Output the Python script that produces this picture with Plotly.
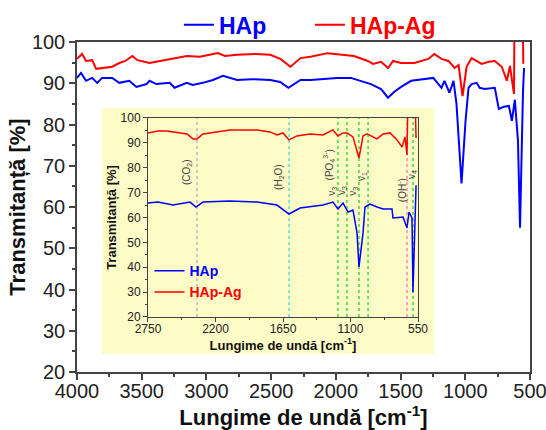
import plotly.graph_objects as go

# ---------------- Main spectrum data (wavenumber cm-1, transmittance %) ----------------
main_wn_hap = [4000, 3969, 3930, 3883, 3844, 3806, 3728, 3673, 3596, 3541, 3463, 3440, 3386,
               3284, 3246, 3152, 3106, 3028, 2950, 2872, 2763, 2650, 2507, 2430, 2367, 2273,
               2196, 2100, 1990, 1884, 1807, 1729, 1651, 1597, 1550, 1496, 1418, 1330, 1247,
               1184, 1161, 1122, 1091, 1068, 1029, 998, 975, 951, 912, 889, 850, 772, 741,
               702, 663, 640, 617, 593, 577, 554, 546]
main_t_hap = [91.3, 92.5, 90.6, 91.3, 90.1, 91.3, 91.3, 90.1, 90.6, 89.1, 89.8, 90.6, 89.8,
              90.1, 88.9, 90.1, 89.6, 90.1, 90.8, 91.8, 90.8, 91.0, 90.8, 90.3, 88.9, 90.8,
              90.8, 91.0, 91.3, 91.3, 90.6, 89.8, 88.6, 86.5, 87.9, 89.1, 90.6, 91.0, 91.3,
              88.9, 90.6, 87.7, 90.6, 85.0, 65.7, 80.9, 88.9, 89.8, 90.1, 88.9, 88.6, 88.9, 83.8,
              84.3, 84.5, 80.9, 86.0, 76.1, 55.0, 88.2, 93.7]

main_wn_ag = [4000, 3961, 3930, 3883, 3852, 3790, 3728, 3673, 3627, 3572, 3533, 3440, 3362,
              3284, 3152, 3051, 2911, 2857, 2763, 2623, 2507, 2429, 2351, 2273, 2196, 2063,
              1962, 1861, 1752, 1713, 1651, 1597, 1558, 1496, 1394, 1285, 1239, 1184, 1130,
              1083, 1052, 1021, 990, 951, 873, 819, 772, 718, 679, 655, 624, 616, 560, 552]
main_t_ag = [95.9, 97.1, 95.4, 95.6, 93.5, 93.7, 94.0, 94.9, 95.4, 96.6, 95.6, 94.9, 95.4,
             95.9, 96.6, 96.4, 97.3, 96.6, 96.9, 97.1, 96.9, 95.9, 94.0, 96.1, 96.4, 97.3,
             96.9, 96.6, 95.4, 94.7, 95.2, 93.7, 95.4, 94.9, 94.9, 95.9, 97.1, 95.9, 95.4,
             93.7, 94.4, 86.9, 94.0, 96.1, 94.7, 95.2, 95.4, 94.0, 90.6, 94.2, 87.4, 120.0,
             120.0, 94.7]

# ---------------- Inset data ----------------
ins_wn_hap = [2750, 2669, 2546, 2408, 2359, 2302, 2082, 1862, 1699, 1601, 1511, 1324, 1243,
              1202, 1161, 1120, 1080, 1047, 1031, 998, 982, 941, 884, 835, 762, 754, 672,
              640, 623, 599, 591, 566]
ins_t_hap = [65.8, 66.2, 65.0, 66.2, 64.2, 66.2, 66.6, 66.2, 65.0, 61.4, 63.8, 65.0, 66.2,
             63.4, 65.8, 62.2, 63.0, 53.8, 40.1, 53.8, 64.2, 65.4, 64.2, 63.4, 63.4, 59.8,
             60.2, 55.8, 62.2, 59.8, 30.0, 73.0]

ins_wn_ag = [2750, 2669, 2595, 2489, 2432, 2383, 2351, 2302, 2204, 2082, 1862, 1756, 1699,
             1650, 1601, 1536, 1430, 1324, 1243, 1202, 1161, 1129, 1080, 1031, 998, 966,
             884, 835, 778, 721, 680, 656, 640, 632, 574, 566]
ins_t_ag = [94.0, 94.8, 94.8, 94.0, 93.6, 91.6, 91.6, 93.6, 94.4, 95.2, 95.2, 94.4, 93.2,
            94.0, 91.2, 92.8, 93.6, 93.2, 95.2, 92.8, 94.0, 94.0, 92.4, 83.9, 92.8, 93.6,
            91.6, 93.6, 94.0, 91.2, 88.3, 92.4, 85.1, 108.0, 108.0, 92.0]

# ---------------- Band markers in inset ----------------
band_wn = [2351, 1601, 1202, 1129, 1031, 957, 640, 591]
band_colors = ["#d4aacb", "#4fe0e0", "#3ddc3d", "#3ddc3d", "#3ddc3d", "#3ddc3d",
               "#ff7fd0", "#3ddc3d"]

label_text = ["(CO<sub>2</sub>)", "(H<sub>2</sub>O)", "(PO<sub>4</sub><sup>3-</sup>)",
              "ν<sub>3</sub>", "ν<sub>3</sub>", "ν<sub>3</sub>", "ν<sub>1</sub>",
              "(OH<sup>-</sup>)", "ν<sub>4</sub>"]
label_wn = [2432, 1683, 1280, 1251, 1169, 1080, 1006, 680, 599]
label_t = [78.3, 76.3, 81.1, 70.7, 70.7, 70.7, 76.3, 71.0, 77.1]

x_ticks_main = [4000, 3500, 3000, 2500, 2000, 1500, 1000, 500]
x_ticks_ins = [2750, 2200, 1650, 1100, 550]

FONT = "Liberation Sans, Arial, sans-serif"
BLUE = "#0000ff"
RED = "#ff0000"
AX = "#444444"

fig = go.Figure()

fig.add_trace(go.Scatter(x=main_wn_hap, y=main_t_hap, mode="lines",
                         line=dict(color=BLUE, width=2),
                         name="<span style='color:#0000ff'><b>HAp</b></span>",
                         xaxis="x", yaxis="y", legend="legend"))
fig.add_trace(go.Scatter(x=main_wn_ag, y=main_t_ag, mode="lines",
                         line=dict(color=RED, width=2),
                         name="<span style='color:#ff0000'><b>HAp-Ag</b></span>",
                         xaxis="x", yaxis="y", legend="legend"))

fig.add_trace(go.Scatter(x=ins_wn_hap, y=ins_t_hap, mode="lines",
                         line=dict(color=BLUE, width=1.5),
                         name="<span style='color:#0000ff'><b>HAp</b></span>",
                         xaxis="x2", yaxis="y2", legend="legend2"))
fig.add_trace(go.Scatter(x=ins_wn_ag, y=ins_t_ag, mode="lines",
                         line=dict(color=RED, width=1.5),
                         name="<span style='color:#ff0000'><b>HAp-Ag</b></span>",
                         xaxis="x2", yaxis="y2", legend="legend2"))

shapes = [dict(type="rect", xref="paper", yref="paper", x0=0.0552, x1=0.788, y0=0.0545, y1=0.80,
               fillcolor="#fdfbc6", line=dict(width=0), layer="below")]
for wn, c in zip(band_wn, band_colors):
    shapes.append(dict(type="line", xref="x2", yref="y2 domain", x0=wn, x1=wn, y0=0, y1=1,
                       line=dict(color=c, width=1.5, dash="dot"), layer="below"))

annotations = []
for t, wn, yv in zip(label_text, label_wn, label_t):
    annotations.append(dict(x=wn, y=yv, xref="x2", yref="y2", text=t, showarrow=False,
                            textangle=-90, font=dict(family=FONT, size=10, color="#444444")))

fig.update_layout(
    width=546, height=430,
    margin=dict(l=77, r=16, t=42, b=58, autoexpand=False),
    paper_bgcolor="white", plot_bgcolor="rgba(0,0,0,0)",
    font=dict(family=FONT, color="#222222"),
    shapes=shapes, annotations=annotations,
    xaxis=dict(domain=[0, 1], range=[4000, 500], tickvals=x_ticks_main, automargin=False,
               ticks="outside", ticklen=6, tickwidth=1.5, tickcolor=AX, ticklabelstandoff=-6,
               ticklabeloverflow="allow",
               minor=dict(ticks="outside", ticklen=3, tickwidth=1.5, tickcolor=AX, dtick=250, tick0=500),
               showline=True, linecolor=AX, linewidth=1.5, mirror=True,
               showgrid=False, zeroline=False, tickfont=dict(size=20, family=FONT, color="#222"),
               title=dict(text="<b>Lungime de undă [cm<sup>-1</sup>]</b>", font=dict(size=22, family=FONT, color="#111"),
                          standoff=14)),
    yaxis=dict(domain=[0, 1], range=[20, 100], dtick=10, automargin=False,
               ticks="outside", ticklen=6, tickwidth=1.5, tickcolor=AX, ticklabeloverflow="allow",
               minor=dict(ticks="outside", ticklen=3, tickwidth=1.5, tickcolor=AX, dtick=5),
               showline=True, linecolor=AX, linewidth=1.5, mirror=True,
               showgrid=False, zeroline=False, tickfont=dict(size=20, family=FONT, color="#222"),
               title=dict(text="<b>Transmitanță [%]</b>", font=dict(size=22, family=FONT, color="#111"),
                          standoff=0)),
    xaxis2=dict(domain=[0.1567, 0.7528], anchor="y2", range=[2750, 550], tickvals=x_ticks_ins,
                automargin=False, ticklabelstandoff=-3, ticklabeloverflow="allow",
                ticks="outside", ticklen=4, tickwidth=1, tickcolor=AX,
                minor=dict(ticks="outside", ticklen=2, tickwidth=1, tickcolor=AX, dtick=275, tick0=550),
                showline=True, linecolor=AX, linewidth=1, mirror=True,
                showgrid=False, zeroline=False, tickfont=dict(size=12, family=FONT, color="#222"),
                title=dict(text="<b>Lungime de undă [cm<sup>-1</sup>]</b>", font=dict(size=13, family=FONT, color="#111"),
                           standoff=0)),
    yaxis2=dict(domain=[0.1667, 0.7697], anchor="x2", range=[20, 100], dtick=10,
                automargin=False, ticklabeloverflow="allow",
                ticks="outside", ticklen=4, tickwidth=1, tickcolor=AX,
                minor=dict(ticks="outside", ticklen=2, tickwidth=1, tickcolor=AX, dtick=5),
                showline=True, linecolor=AX, linewidth=1, mirror=True,
                showgrid=False, zeroline=False, tickfont=dict(size=12, family=FONT, color="#222"),
                title=dict(text="<b>Transmitanță [%]</b>", font=dict(size=13, family=FONT, color="#111"),
                           standoff=0)),
    legend=dict(orientation="h", x=0.225, xanchor="left", y=1.052, yanchor="middle",
                font=dict(size=23, family=FONT), bgcolor="rgba(0,0,0,0)", itemwidth=30,
                entrywidth=86),
    legend2=dict(orientation="v", x=0.16, xanchor="left", y=0.354, yanchor="top",
                 font=dict(size=14, family=FONT), bgcolor="rgba(0,0,0,0)", tracegroupgap=0),
    showlegend=True,
)

fig.write_html("out.html")
